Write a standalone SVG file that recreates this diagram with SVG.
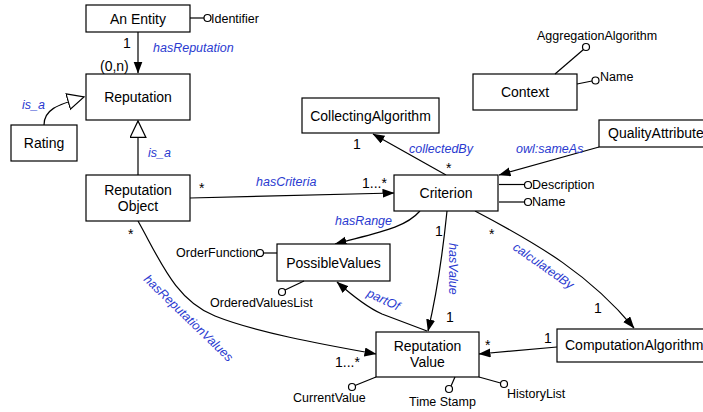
<svg xmlns="http://www.w3.org/2000/svg" width="703" height="412" viewBox="0 0 703 412">
<defs>
<marker id="arr" markerUnits="userSpaceOnUse" markerWidth="12" markerHeight="10" refX="11.5" refY="4.5" orient="auto"><path d="M0,0 L12,4.5 L0,9 z" fill="#000"/></marker>
<marker id="gen" markerUnits="userSpaceOnUse" markerWidth="19" markerHeight="19" refX="17" refY="8.5" orient="auto"><path d="M0.6,0.6 L17,8.5 L0.6,16.4 z" fill="#fff" stroke="#000" stroke-width="1.2"/></marker>
<style>
rect{fill:#fff;stroke:#000;stroke-width:1.2}
.n{font-family:"Liberation Sans",Arial,sans-serif;font-size:14px;fill:#000;text-anchor:middle}
.ns{font-family:"Liberation Sans",Arial,sans-serif;font-size:14px;fill:#000}
.a{font-family:"Liberation Sans",Arial,sans-serif;font-size:12.5px;fill:#000}
.l{font-family:"Liberation Sans",Arial,sans-serif;font-size:12.5px;font-style:italic;fill:#2a3ad0}
.m{font-family:"Liberation Sans",Arial,sans-serif;font-size:14px;fill:#000}
.c{fill:none;stroke:#000;stroke-width:1.2}
.ac{fill:#fff;stroke:#000;stroke-width:1.2}
.e{marker-end:url(#arr)}
.g{marker-end:url(#gen)}
</style>
</defs>
<g id="connectors">
<path class="c e" d="M138,32 L138,73"/>
<path class="c g" d="M44,125 C44,110 56,105 84,97"/>
<path class="c g" d="M138,175 L138,121"/>
<path class="c e" d="M190,198 L394,193"/>
<path class="c e" d="M446,175 L373,134"/>
<path class="c e" d="M599,147 L499,175"/>
<path class="c e" d="M420,211 C405,228 380,232 335,244"/>
<path class="c e" d="M447,211 Q440,280 428,331"/>
<path class="c e" d="M427,331 L382,314 Q364,306 337,282"/>
<path class="c e" d="M138,221 C160,260 175,300 215,316 C255,332 320,344 376,354"/>
<path class="c e" d="M475,211 C540,245 590,275 634,328"/>
<path class="c e" d="M557,347 L479,354"/>
<text class="l" x="153" y="52">hasReputation</text>
<text class="m" x="123" y="48">1</text>
<text class="m" x="100" y="71">(0,n)</text>
<text class="l" x="22" y="109">is_a</text>
<text class="l" x="148" y="157">is_a</text>
<text class="l" x="256" y="186">hasCriteria</text>
<text class="m" x="199" y="193">*</text>
<text class="m" x="362" y="188">1...*</text>
<text class="l" x="409" y="153">collectedBy</text>
<text class="m" x="353" y="149">1</text>
<text class="m" x="446" y="173">*</text>
<text class="l" x="516" y="153">owl:sameAs</text>
<text class="l" x="335" y="225">hasRange</text>
<text class="l" transform="translate(449,243) rotate(90)">hasValue</text>
<text class="m" x="435" y="236">1</text>
<text class="m" x="446" y="322">1</text>
<text class="l" transform="translate(366,296) rotate(25)">partOf</text>
<text class="l" transform="translate(143,280) rotate(44)">hasReputationValues</text>
<text class="m" x="128" y="239">*</text>
<text class="m" x="335" y="367">1...*</text>
<text class="l" transform="translate(512,249) rotate(35)">calculatedBy</text>
<text class="m" x="489" y="239">*</text>
<text class="m" x="594" y="313">1</text>
<text class="m" x="544" y="343">1</text>
<text class="m" x="485" y="350">*</text>
</g>
<g id="entity">
<rect x="86" y="5" width="104" height="27"/>
<text class="n" x="138" y="23.5">An Entity</text>
<path class="c" d="M190,18 L204,18"/>
<circle class="ac" cx="207.5" cy="18" r="3.5"/>
<text class="a" x="211" y="22.5">Identifier</text>
</g>
<g id="reputation">
<rect x="86" y="74" width="104" height="46"/>
<text class="n" x="138" y="102">Reputation</text>
</g>
<g id="rating">
<rect x="11" y="125" width="66" height="36"/>
<text class="n" x="44" y="148">Rating</text>
</g>
<g id="reputation-object">
<rect x="86" y="175" width="104" height="46"/>
<text class="n" x="138" y="195">Reputation</text>
<text class="n" x="138" y="211">Object</text>
</g>
<g id="collecting-algorithm">
<rect x="302" y="98" width="137" height="35"/>
<text class="n" x="370.5" y="121">CollectingAlgorithm</text>
</g>
<g id="context">
<rect x="473" y="74" width="104" height="36"/>
<text class="n" x="525" y="97">Context</text>
<path class="c" d="M555,74 L583.5,49.5"/>
<circle class="ac" cx="586" cy="47" r="3.5"/>
<text class="a" x="537" y="40">AggregationAlgorithm</text>
<path class="c" d="M577,84 L592,81"/>
<circle class="ac" cx="595.5" cy="80.5" r="3.5"/>
<text class="a" x="600" y="81">Name</text>
</g>
<g id="quality-attribute">
<rect x="599" y="120" width="120" height="27"/>
<text class="ns" x="608" y="138">QualityAttribute</text>
</g>
<g id="criterion">
<rect x="394" y="175" width="104" height="36"/>
<text class="n" x="446" y="198">Criterion</text>
<path class="c" d="M499,184.5 L524.5,184.5"/>
<circle class="ac" cx="528" cy="185" r="3.5"/>
<text class="a" x="532" y="188.5">Description</text>
<path class="c" d="M499,202 L524.5,202"/>
<circle class="ac" cx="528" cy="202" r="3.5"/>
<text class="a" x="532" y="206">Name</text>
</g>
<g id="possible-values">
<rect x="277" y="244" width="113" height="37"/>
<text class="n" x="333.5" y="268">PossibleValues</text>
<path class="c" d="M263.5,253 L277,253"/>
<circle class="ac" cx="260" cy="253" r="3.5"/>
<text class="a" x="256" y="257" text-anchor="end">OrderFunction</text>
<path class="c" d="M285,290 L304,281"/>
<circle class="ac" cx="282" cy="292" r="3.5"/>
<text class="a" x="210" y="307">OrderedValuesList</text>
</g>
<g id="reputation-value">
<rect x="376" y="332" width="103" height="45"/>
<text class="n" x="427.5" y="351">Reputation</text>
<text class="n" x="427.5" y="367">Value</text>
<path class="c" d="M355,385.5 L376,377"/>
<circle class="ac" cx="352" cy="387" r="3.5"/>
<text class="a" x="293" y="402">CurrentValue</text>
<path class="c" d="M451,386 L455,377"/>
<circle class="ac" cx="449" cy="389" r="3.5"/>
<text class="a" x="409" y="406">Time Stamp</text>
<path class="c" d="M500.5,383 L479,377"/>
<circle class="ac" cx="504" cy="384" r="3.5"/>
<text class="a" x="507" y="398">HistoryList</text>
</g>
<g id="computation-algorithm">
<rect x="557" y="329" width="160" height="33"/>
<text class="ns" x="565" y="350">ComputationAlgorithm</text>
</g>
</svg>
